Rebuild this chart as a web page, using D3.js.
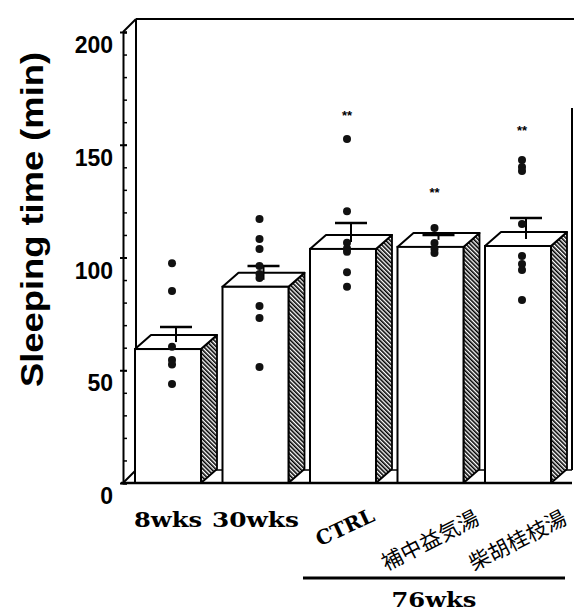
<!DOCTYPE html>
<html><head><meta charset="utf-8">
<script src="https://cdn.jsdelivr.net/npm/d3@7"></script>
<style>body{margin:0;background:#fff}svg{display:block}</style>
</head><body>
<script>
const categories = ["8wks","30wks","CTRL","補中益気湯","柴胡桂枝湯"];
const barValues = [59.4, 87.0, 103.8, 104.7, 105.1];
const errTops = [69.2, 96.2, 115.3, 110.0, 117.5];
const dotValues = [
  [97.5, 85.1, 60.4, 54.5, 52.6, 43.9],
  [117.1, 108.2, 103.8, 96.2, 92.7, 90.9, 78.5, 73.2, 51.4],
  [152.5, 120.5, 106.5, 104.0, 102.5, 93.5, 87.0],
  [113.1, 106.4, 103.8, 102.0],
  [143.2, 140.1, 138.4, 114.9, 100.7, 97.1, 94.5, 81.2]
];
const starLevels = [null, null, 163, 129, 156.5];
const majorTicks = [0, 50, 100, 150, 200];
const groupLabel = "76wks";
const yTitle = "Sleeping time (min)";

const W = 574, H = 611;
const svg = d3.select("body").append("svg").attr("width", W).attr("height", H);
const defs = svg.append("defs");
const pat = defs.append("pattern").attr("id","hatch").attr("patternUnits","userSpaceOnUse")
  .attr("width",3).attr("height",3).attr("patternTransform","rotate(-45)");
pat.append("rect").attr("width",3).attr("height",3).attr("fill","#fff");
pat.append("rect").attr("x",0).attr("width",1.6).attr("height",3).attr("fill","#000");

const y = d3.scaleLinear().domain([0,200]).range([483,32]);
const x = d3.scaleBand().domain(categories).range([135,551]).paddingInner(0.2457).paddingOuter(0);
const bw = x.bandwidth();
const DX = 16, DY = 14;      // bar depth
const FX = 13, FY = 13;      // frame depth
const axX = 123;

// Frame (back wall + floor back line)
const frame = svg.append("g").attr("stroke","#000").attr("fill","none").attr("stroke-width",2);
frame.append("line").attr("x1",axX+FX).attr("y1",y(200)-FY).attr("x2",axX+FX).attr("y2",y(0)-FY);
frame.append("line").attr("x1",axX+FX).attr("y1",y(200)-FY).attr("x2",W).attr("y2",y(200)-FY);
frame.append("line").attr("x1",572).attr("y1",108).attr("x2",572).attr("y2",y(0)-FY);
frame.append("line").attr("x1",axX+FX).attr("y1",y(0)-FY).attr("x2",572).attr("y2",y(0)-FY).attr("stroke-width",1.5);
frame.append("line").attr("x1",axX).attr("y1",y(200)).attr("x2",axX+FX).attr("y2",y(200)-FY);
frame.append("line").attr("x1",axX).attr("y1",y(0)).attr("x2",axX+FX).attr("y2",y(0)-FY);

// Bars
const bars = svg.append("g").selectAll("g").data(categories).join("g");
bars.each(function(c,i){
  const g = d3.select(this);
  const x0 = x(c), x1 = x0 + bw, yt = y(barValues[i]), yb = y(0);
  g.append("path").attr("d",`M${x1},${yt}L${x1+DX},${yt-DY}L${x1+DX},${yb-DY}L${x1},${yb}Z`)
    .attr("fill","url(#hatch)").attr("stroke","#000").attr("stroke-width",1.8).attr("stroke-linejoin","round");
  g.append("path").attr("d",`M${x0},${yt}L${x0+DX},${yt-DY}L${x1+DX},${yt-DY}L${x1},${yt}Z`)
    .attr("fill","#fff").attr("stroke","#000").attr("stroke-width",2).attr("stroke-linejoin","round");
  g.append("rect").attr("x",x0).attr("y",yt).attr("width",bw).attr("height",yb-yt)
    .attr("fill","#fff").attr("stroke","#000").attr("stroke-width",2);
  const ex = x0 + bw/2 + DX/2;
  g.append("line").attr("x1",ex).attr("x2",ex).attr("y1",yt-DY/2).attr("y2",y(errTops[i]))
    .attr("stroke","#000").attr("stroke-width",2);
  g.append("line").attr("x1",ex-16).attr("x2",ex+16).attr("y1",y(errTops[i])).attr("y2",y(errTops[i]))
    .attr("stroke","#000").attr("stroke-width",2.5);
  const dx = x0 + bw/2 + 4;
  g.selectAll("circle").data(dotValues[i]).join("circle")
    .attr("cx",dx).attr("cy",d=>y(d)).attr("r",4).attr("fill","#111");
  if (starLevels[i] != null) {
    g.append("text").attr("x",dx).attr("y",y(starLevels[i])).attr("text-anchor","middle")
      .attr("dominant-baseline","central").attr("font-family","Liberation Sans, Arial, sans-serif")
      .attr("font-weight","bold").attr("font-size",13).text("**");
  }
});

// Front y axis
const axisG = svg.append("g").attr("transform",`translate(${axX},0)`);
axisG.call(d3.axisLeft(y).tickValues(d3.range(0,201,10)).tickSize(-4).tickFormat(""))
  .call(g=>g.select(".domain").attr("stroke-width",2))
  .call(g=>g.selectAll(".tick line").attr("stroke-width",1.5));
const majG = svg.append("g").attr("transform",`translate(${axX},0)`);
majG.call(d3.axisLeft(y).tickValues(majorTicks).tickSizeInner(4).tickSizeOuter(0).tickPadding(6))
  .call(g=>g.select(".domain").remove())
  .call(g=>g.selectAll(".tick line").attr("stroke-width",2).attr("x2",4).attr("x1",-3))
  .call(g=>g.selectAll(".tick text").attr("x",-10).attr("dy","0.9em")
     .attr("font-family","Liberation Sans, Arial, sans-serif").attr("font-weight","bold").attr("font-size",23).attr("fill","#000"));

// Front baseline
svg.append("line").attr("x1",axX-2).attr("x2",572).attr("y1",y(0)).attr("y2",y(0))
  .attr("stroke","#000").attr("stroke-width",2.5);

// Y title
svg.append("text").attr("transform",`translate(43,${(52+387)/2}) rotate(-90)`)
  .attr("text-anchor","middle").attr("font-family","Liberation Sans, Arial, sans-serif")
  .attr("font-weight","bold").attr("font-size",32).attr("textLength",335).attr("lengthAdjust","spacingAndGlyphs")
  .text(yTitle);

// X labels
const serif = "DejaVu Serif, Liberation Serif, serif";
const cjk = "Noto Sans CJK JP, sans-serif";
const latinWidths = {"8wks":68,"30wks":87};
categories.forEach((c,i)=>{
  const cx = x(c) + bw/2;
  if (i < 2) {
    svg.append("text").attr("x",cx).attr("y",527).attr("text-anchor","middle")
      .attr("font-family",serif).attr("font-weight","bold").attr("font-size",20)
      .attr("textLength",latinWidths[c]).attr("lengthAdjust","spacingAndGlyphs").text(c);
  } else {
    const isCJK = /[^\x00-\x7F]/.test(c);
    const t = svg.append("text")
      .attr("transform", isCJK ? `translate(${cx-1},539) rotate(-27)` : `translate(${cx+2},527) rotate(-25)`)
      .attr("text-anchor","middle").attr("dominant-baseline","central")
      .attr("font-family",isCJK?cjk:serif).attr("font-weight",isCJK?"normal":"bold")
      .attr("font-size",isCJK?21:20).text(c);
    if(isCJK) t.attr("textLength",106).attr("lengthAdjust","spacing");
    else t.attr("textLength",62).attr("lengthAdjust","spacingAndGlyphs");
  }
});

// Group bracket
const gx0 = x("CTRL") - 7, gx1 = x("柴胡桂枝湯") + bw + 14;
svg.append("line").attr("x1",gx0).attr("x2",gx1).attr("y1",578).attr("y2",578).attr("stroke","#000").attr("stroke-width",3);
svg.append("text").attr("x",(gx0+gx1)/2).attr("y",607).attr("text-anchor","middle")
  .attr("font-family",serif).attr("font-weight","bold").attr("font-size",20)
  .attr("textLength",85).attr("lengthAdjust","spacingAndGlyphs").text(groupLabel);
</script>
</body></html>
